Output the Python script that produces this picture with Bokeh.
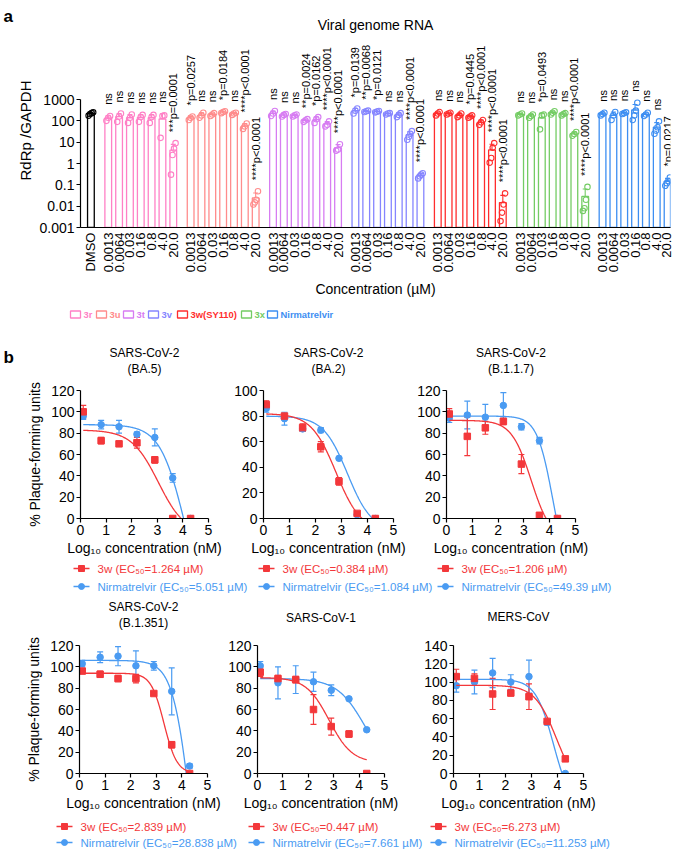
import numpy as np
from math import pi
from bokeh.plotting import figure
from bokeh.models import (ColumnDataSource, Range1d, FixedTicker, PrintfTickFormatter,
                          Whisker, TeeHead, Title)
from bokeh.layouts import column, row
from bokeh.embed import file_html
from bokeh.resources import INLINE
from bokeh.core.properties import value

FONT = "Liberation Sans"

# ---------------- panel a data ----------------
compounds_a = ["3r", "3u", "3t", "3v", "3w(SY110)", "3x", "Nirmatrelvir"]
colors_a = ["#FF80C6", "#FF8C8C", "#D77CF2", "#8585FF", "#FF2D2D", "#74CC64", "#3D8EF2"]
conc_labels_a = ["0.0013", "0.0064", "0.03", "0.16", "0.8", "4.0", "20.0"]
dmso_rna = [175, 210, 230, 250]
rna_3r = [[100, 140, 170], [90, 160, 220], [80, 140, 200], [90, 150, 190],
          [80, 150, 190], [16, 170, 180], [0.3, 2.5, 5, 9]]
rna_3u = [[110, 140, 160], [140, 180, 240], [170, 200, 230], [230, 260, 280],
          [190, 220, 240], [42, 55, 75], [0.012, 0.015, 0.02, 0.05]]
rna_3t = [[170, 220, 290], [160, 190, 210], [160, 180, 200], [90, 105, 120],
          [80, 120, 150], [55, 65, 95], [4, 4.5, 8]]
rna_3v = [[220, 300, 380], [260, 280, 300], [250, 270, 290], [200, 220, 230],
          [150, 190, 230], [13, 18, 25, 33], [0.2, 0.25, 0.3, 0.35]]
rna_3w = [[180, 220, 260], [200, 220, 240], [150, 180, 220], [140, 160, 180],
          [65, 85, 110], [1.1, 1.8, 5.5, 9], [0.002, 0.005, 0.012, 0.04]]
rna_3x = [[180, 200, 220], [140, 170, 200], [40, 180, 200], [200, 240, 280],
          [180, 210, 230], [20, 24, 30], [0.006, 0.008, 0.02, 0.08]]
rna_nirm = [[180, 210, 240], [110, 180, 260], [210, 230, 250], [110, 180, 300, 700],
            [170, 200, 240], [25, 35, 50, 95], [0.09, 0.12, 0.15, 0.22]]
sig_3r = ["ns", "ns", "ns", "ns", "ns", "ns", "***p=0.0001"]
sig_3u = ["*p=0.0257", "ns", "ns", "*p=0.0184", "ns", "****p<0.0001", "****p<0.0001"]
sig_3t = ["ns", "ns", "ns", "**p=0.0024", "*p=0.0162", "****p<0.0001", "****p<0.0001"]
sig_3v = ["*p=0.0139", "**p=0.0068", "*p=0.0121", "ns", "ns", "****p<0.0001", "****p<0.0001"]
sig_3w = ["ns", "ns", "ns", "*p=0.0445", "****p<0.0001", "****p<0.0001", "****p<0.0001"]
sig_3x = ["ns", "ns", "*p=0.0493", "ns", "ns", "****p<0.0001", "****p<0.0001"]
sig_nirm = ["ns", "ns", "ns", "ns", "ns", "ns", "*p=0.0217"]
y_ticks_a = [0.001, 0.01, 0.1, 1, 10, 100, 1000]

# ---------------- panel b data ----------------
conc_nM = [1.28, 6.4, 32, 160, 800, 4000, 20000]
virus_names = ["SARS-CoV-2", "SARS-CoV-2", "SARS-CoV-2", "SARS-CoV-2", "SARS-CoV-1", "MERS-CoV"]
variant_names = ["(BA.5)", "(BA.2)", "(B.1.1.7)", "(B.1.351)", None, None]
y_max_b = [120, 100, 120, 120, 120, 140]
pfu_3w = [[100, 73, 70, 71, 55, 0, 0], [89, 80, 71, 56, 29, 4, 0], [98, 77, 85, 91, 51, 3, 0],
          [96, 93, 89, 89, 75, 27, 0], [95, 89, 88, 60, 44, 37, 0], [106, 104, 87, 88, 84, 57, 16]]
sd_3w = [[6, 3, 2, 5, 3, 0, 0], [3, 2, 3, 4, 3, 1, 0], [5, 18, 6, 3, 9, 1, 0],
         [2, 3, 3, 4, 1, 3, 0], [4, 3, 3, 14, 8, 3, 0], [8, 5, 17, 3, 14, 2, 1]]
pfu_nirm = [[96, 88, 86, 79, 76, 38, 0], [86, 78, 70, 69, 47, 3, 0], [94, 97, 95, 106, 86, 73, 0],
            [103, 109, 110, 101, 101, 77, 7], [101, 85, 88, 86, 78, 70, 41], [96, 100, 110, 100, 106, 56, 0]]
sd_nirm = [[3, 4, 6, 2, 8, 4, 0], [3, 5, 2, 2, 1, 1, 0], [4, 13, 12, 12, 3, 3, 0],
           [3, 5, 9, 14, 4, 22, 2], [4, 15, 13, 9, 5, 1, 1], [7, 13, 16, 8, 18, 3, 0]]
# fitted curve parameters: top, bottom, log10 EC50 (nM), Hill slope
fit_3w = [(83, -15, 3.04, 0.83), (82, -10, 2.79, 0.91), (92, -20, 3.28, 1.14),
          (94, 0, 3.30, 1.71), (90, 10, 2.82, 0.96), (96.5, -20, 3.96, 1.04)]
fit_nirm = [(88, -100, 4.09, 0.89), (80, -10, 3.23, 0.93), (96, -60, 4.12, 1.42),
            (106, -200, 4.40, 1.2), (89, 0, 4.23, 0.79), (103, -40, 3.85, 1.25)]
ec50_3w = ["1.264", "0.384", "1.206", "2.839", "0.447", "6.273"]
ec50_nirm = ["5.051", "1.084", "49.39", "28.838", "7.661", "11.253"]
RED = "#F3373A"
BLUE = "#4A9BF2"


def style_axis(ax, label_size):
    ax.axis_line_color = "black"
    ax.axis_line_width = 1.2
    ax.major_tick_line_color = "black"
    ax.major_tick_line_width = 1.2
    ax.major_tick_out = 4
    ax.major_tick_in = 0
    ax.minor_tick_line_color = None
    ax.major_label_text_font = FONT
    ax.major_label_text_font_size = f"{label_size}px"
    ax.major_label_text_color = "black"
    ax.axis_label_text_font = FONT
    ax.axis_label_text_font_style = "normal"
    ax.axis_label_text_color = "black"


def make_strip(w, h):
    p = figure(width=w, height=h, x_range=Range1d(0, w), y_range=Range1d(0, h),
               output_backend="svg", toolbar_location=None, min_border=0, title=None,
               x_axis_location=None, y_axis_location=None, outline_line_color=None)
    p.grid.visible = False
    return p


def spacer_title(p, size, standoff):
    p.add_layout(Title(text=" ", text_font=FONT, text_font_size=size,
                       standoff=standoff), "above")


def panel_letter(w, h, letter, spacer):
    p = make_strip(w, h)
    if spacer:
        spacer_title(p, "11.5px", 8)
    p.add_layout(Title(text=letter, align="left", offset=3, vertical_align="top",
                       text_font=FONT, text_font_style="bold", text_font_size="17px",
                       text_color="black", standoff=0 if spacer else 12), "above")
    return p


LET_W = 14

# ======================= panel a =======================
slot_px = 10.95
xA0 = -0.96
xA1 = xA0 + (670 - 74) / slot_px
yA1 = 10 ** ((227 - 33) / 21.33 - 3)
pA = figure(width=673 - LET_W, height=300, x_range=Range1d(xA0, xA1),
            y_range=Range1d(1e-3, yA1), y_axis_type="log",
            output_backend="svg", toolbar_location=None,
            min_border_left=74 - LET_W, min_border_right=3,
            min_border_top=33, min_border_bottom=73,
            outline_line_color=None, background_fill_color="white")
pA.grid.visible = False
pA.title.text = "Viral genome RNA"
pA.title.align = "center"
pA.title.text_font = FONT
pA.title.text_font_style = "normal"
pA.title.text_color = "black"
pA.title.text_font_size = "14px"
pA.title.standoff = 2
pA.title.offset = 6

style_axis(pA.yaxis[0], 14)
pA.yaxis.ticker = FixedTicker(ticks=y_ticks_a, minor_ticks=[])
pA.yaxis.formatter = PrintfTickFormatter(format="%g")
pA.yaxis.bounds = (y_ticks_a[0], y_ticks_a[-1])
pA.yaxis.axis_label = "RdRp /GAPDH"
pA.yaxis.axis_label_text_font_size = "15px"
pA.yaxis.major_label_standoff = 2
pA.yaxis.axis_label_standoff = 2

groups = [rna_3r, rna_3u, rna_3t, rna_3v, rna_3w, rna_3x, rna_nirm]
sigs = [sig_3r, sig_3u, sig_3t, sig_3v, sig_3w, sig_3x, sig_nirm]
offs = {3: [-0.17, 0.0, 0.17], 4: [-0.21, -0.07, 0.07, 0.21]}

bars = [(0.0, dmso_rna, "black", None)]
for g, (vals, sg) in enumerate(zip(groups, sigs)):
    for i in range(7):
        bars.append((1.6 + 7.6 * g + i, vals[i], colors_a[g], sg[i]))

tick_pos = [b[0] for b in bars]
tick_lab = ["DMSO"] + conc_labels_a * 7
style_axis(pA.xaxis[0], 13)
pA.xaxis.ticker = FixedTicker(ticks=tick_pos, minor_ticks=[])
pA.xaxis.major_label_overrides = {t: l for t, l in zip(tick_pos, tick_lab)}
pA.xaxis.major_label_orientation = pi / 2
pA.xaxis.major_tick_out = 0
pA.xaxis.major_tick_line_color = None
pA.xaxis.major_label_standoff = 5
pA.xaxis.axis_label = "Concentration (µM)"
pA.xaxis.axis_label_text_font_size = "14px"
pA.xaxis.axis_label_standoff = 6

bx, btop, bcol = [], [], []
ptx, pty, pcol = [], [], []
wk = {}
tx, ty, tt = [], [], []
gap = 10 ** (11 / 21.33)
for x, vals, col, sg in bars:
    v = np.array(vals, dtype=float)
    m = v.mean()
    sd = v.std(ddof=1)
    bx.append(x); btop.append(m); bcol.append(col)
    for o, val in zip(offs[len(vals)], vals):
        ptx.append(x + o); pty.append(val); pcol.append(col)
    lo = m - sd if m - sd > 1e-3 else 1e-3
    wk.setdefault(col, {"x": [], "u": [], "l": []})
    wk[col]["x"].append(x); wk[col]["u"].append(m + sd); wk[col]["l"].append(lo)
    if sg is not None:
        tx.append(x); ty.append(max(v.max(), m + sd) * gap); tt.append(sg)

pA.vbar(x="x", top="top", bottom=1e-3, width=0.62, fill_color="white",
        line_color="color", line_width=1.3,
        source=ColumnDataSource(dict(x=bx, top=btop, color=bcol)))
for col, d in wk.items():
    pA.add_layout(Whisker(source=ColumnDataSource(d), base="x", upper="u", lower="l",
                          dimension="height", line_color=col, line_width=1.1,
                          upper_head=TeeHead(size=5, line_color=col, line_width=1.1),
                          lower_head=TeeHead(size=5, line_color=col, line_width=1.1)))
pA.scatter(x="x", y="y", marker="circle", size=5.5, fill_alpha=0,
           line_color="color", line_width=1.1,
           source=ColumnDataSource(dict(x=ptx, y=pty, color=pcol)))
pA.text(x="x", y="y", text="t", angle=pi / 2, text_align="left", text_baseline="middle",
        text_font=value(FONT), text_font_size="11px", text_color="black",
        source=ColumnDataSource(dict(x=tx, y=ty, t=tt)))
letterA = panel_letter(LET_W, 300, "a", False)

# ---- legend strip for panel a (legend keys drawn in the strip's pixel space)
hA = 45
stripA = make_strip(673, hA)
legA_x = [70, 96, 123, 148, 177, 241, 267]
kx = [x0 + 5 for x0 in legA_x]
ky = [hA - 14] * len(legA_x)
stripA.rect(x=kx, y=ky, width=10, height=7, fill_color="white",
            line_color=colors_a, line_width=1.3)
stripA.text(x=[x0 + 13 for x0 in legA_x], y=ky, text=compounds_a, text_color=colors_a,
            text_font=value(FONT), text_font_style="bold", text_font_size="9.4px",
            text_baseline="middle", text_align="left")


# ---- legend strips for panel b
def dose_strip(h, text_x, y_red, y_blue, idx):
    p = make_strip(673, h)
    for k, tx0 in enumerate(text_x):
        j = idx[k]
        for col, mk, lab, yc in ((RED, "square", f"3w (EC₅₀={ec50_3w[j]} µM)", y_red),
                                 (BLUE, "circle", f"Nirmatrelvir (EC₅₀={ec50_nirm[j]} µM)", y_blue)):
            yy = h - yc
            p.line(x=[tx0 - 24, tx0 - 8], y=[yy, yy], line_color=col, line_width=1.3)
            p.scatter(x=[tx0 - 16], y=[yy], marker=mk, size=6, color=col)
            p.text(x=[tx0], y=[yy], text=[lab], text_color=col, text_font=value(FONT),
                   text_font_size="11.5px", text_baseline="middle", text_align="left")
    return p


strip1 = dose_strip(35, [97, 282, 461], 8, 26, [0, 1, 2])
strip2 = dose_strip(36, [80, 272, 454], 11, 27, [3, 4, 5])


# ======================= panel b =======================
def four_pl(x, top, bottom, log_ec, hill):
    return bottom + (top - bottom) / (1 + 10 ** ((x - log_ec) * hill))


logc = np.log10(conc_nM)
xfit = np.linspace(logc.min(), logc.max(), 200)


def add_title(p, text, offset):
    p.add_layout(Title(text=text, align="center", vertical_align="top", text_font=FONT,
                       text_font_style="normal", text_font_size="12px", text_color="black",
                       standoff=0, offset=offset), "above")


def dose_fig(j, width, left, frame_w, height, top, title_off, spacer_standoff, ylabel):
    fh = 128
    p = figure(width=width, height=height, x_range=Range1d(0, 5), y_range=Range1d(0, y_max_b[j]),
               output_backend="svg", toolbar_location=None, title=None,
               min_border_left=left, min_border_right=width - left - frame_w,
               min_border_top=top, min_border_bottom=height - top - fh,
               outline_line_color=None)
    p.grid.visible = False
    spacer_title(p, "10px", spacer_standoff)
    add_title(p, variant_names[j] or virus_names[j], title_off)
    if variant_names[j] is not None:
        add_title(p, virus_names[j], title_off)
    for ax in (p.xaxis[0], p.yaxis[0]):
        style_axis(ax, 14)
        ax.major_label_standoff = 2
    p.xaxis.ticker = FixedTicker(ticks=[0, 1, 2, 3, 4, 5], minor_ticks=[])
    p.yaxis.ticker = FixedTicker(ticks=list(range(0, y_max_b[j] + 1, 20)), minor_ticks=[])
    p.xaxis.axis_label = "Log₁₀ concentration (nM)"
    p.xaxis.axis_label_text_font_size = "14px"
    p.xaxis.axis_label_standoff = 2
    if ylabel:
        p.yaxis.axis_label = "% Plaque-forming units"
        p.yaxis.axis_label_text_font_size = "14px"
        p.yaxis.axis_label_standoff = 5
    for mean, sd, fit, col, mk in ((pfu_nirm[j], sd_nirm[j], fit_nirm[j], BLUE, "circle"),
                                   (pfu_3w[j], sd_3w[j], fit_3w[j], RED, "square")):
        p.line(xfit, four_pl(xfit, *fit), line_color=col, line_width=1.3)
        wx = [x for x, s in zip(logc, sd) if s > 0]
        wu = [m + s for m, s in zip(mean, sd) if s > 0]
        wl = [m - s for m, s in zip(mean, sd) if s > 0]
        p.add_layout(Whisker(source=ColumnDataSource(dict(x=wx, u=wu, l=wl)), base="x",
                             upper="u", lower="l", dimension="height", line_color=col,
                             line_width=1.2,
                             upper_head=TeeHead(size=6, line_color=col, line_width=1.2),
                             lower_head=TeeHead(size=6, line_color=col, line_width=1.2)))
        p.scatter(logc, mean, marker=mk, size=6.5, color=col)
    return p


letterB = panel_letter(LET_W, 215, "b", True)
p1 = dose_fig(0, 228 - LET_W, 80 - LET_W, 128, 215, 45, -6, 0, True)
p2 = dose_fig(1, 184, 35, 130, 215, 45, 0, 0, False)
p3 = dose_fig(2, 261, 34, 129, 215, 45, 0, 0, False)
p4 = dose_fig(3, 224, 79, 128, 220, 50, 0, 1, True)
p5 = dose_fig(4, 195, 33, 127, 220, 50, 0, 6, False)
p6 = dose_fig(5, 254, 34, 130, 220, 50, -6, 7, False)

layout = column(row(letterA, pA, spacing=0), stripA,
                row(letterB, p1, p2, p3, spacing=0), strip1,
                row(p4, p5, p6, spacing=0), strip2, spacing=0)

open("out.html", "w").write(file_html(layout, INLINE))
